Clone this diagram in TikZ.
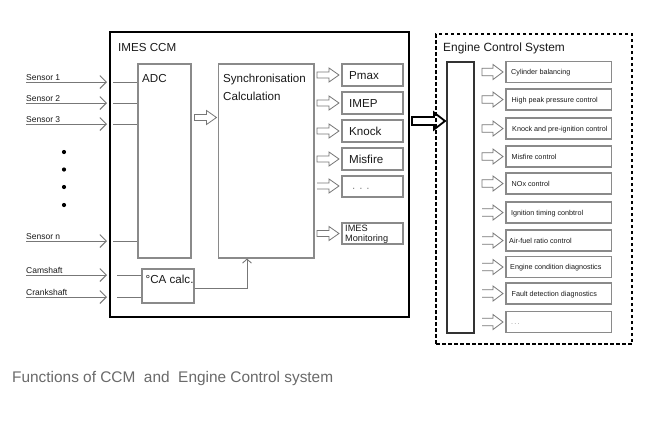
\documentclass[tikz,border=0pt]{standalone}
\usepackage{fontspec}
\setmainfont{Liberation Sans}
\usetikzlibrary{arrows.meta}
\definecolor{boxgray}{HTML}{8A8A8A}
\definecolor{linegray}{HTML}{777777}
\definecolor{capgray}{HTML}{6A6A6A}
\definecolor{txt}{HTML}{1A1A1A}
\begin{document}
\begin{tikzpicture}[x=1pt,y=-1pt,
  graybox/.style={draw=boxgray, line width=1.1pt, inner sep=0, fill=white},
  ccmbox/.style={draw=black, line width=2pt, inner sep=0},
  ecsbox/.style={draw=black, line width=1.2pt, dash pattern=on 3.5pt off 2.5pt, inner sep=0},
  barbox/.style={draw=black!80, line width=1.4pt, inner sep=0},
  sline/.style={draw=linegray, line width=0.9pt},
  hollow/.style={draw=linegray, line width=0.8pt, fill=white, line join=miter},
  tbig/.style={font=\fontsize{11.6}{13}\selectfont, inner sep=0, anchor=base west, text=txt},
  tmon/.style={font=\fontsize{9.2}{10}\selectfont, inner sep=0, anchor=base west, text=txt},
  tsens/.style={font=\fontsize{8.5}{10}\selectfont, inner sep=0, anchor=base west, text=txt},
  tecs/.style={font=\fontsize{7.2}{9}\selectfont, inner sep=0, anchor=base west, text=txt},
  dotn/.style={circle, fill=black, inner sep=0, minimum size=4.2pt},
  ccmarrow/.pic={\draw[hollow] (0,-3) -- (12,-3) -- (12,-7) -- (22,0) -- (12,7) -- (12,3) -- (0,3) -- cycle;},
  ccmarrowopen/.pic={\draw[hollow] (0,-3) -- (12,-3) -- (12,-7) -- (22,0) -- (12,7) -- (12,3) -- (0,3);},
  ecsarrow/.pic={\draw[hollow] (0,-3.7) -- (11,-3.7) -- (11,-7.5) -- (21,0) -- (11,7.5) -- (11,3.7) -- (0,3.7) -- cycle;},
  ecsarrowopen/.pic={\draw[hollow] (0,-3.7) -- (11,-3.7) -- (11,-7.5) -- (21,0) -- (11,7.5) -- (11,3.7) -- (0,3.7);},
  bigarrow/.pic={\draw[draw=black, line width=1.8pt, fill=white, line join=miter] (0,-4) -- (22,-4) -- (22,-8.5) -- (33,0) -- (22,8.5) -- (22,4) -- (0,4) -- cycle;}
]
\fill[white] (0,0) rectangle (661,424);
\useasboundingbox (0,0) rectangle (661,424);

% ---------------- IMES CCM ----------------
\node[ccmbox, minimum width=299, minimum height=285] (ccm) at (259.5,174.5) {};
\node[tbig] (ccmt) at (118,51.2) {IMES CCM};

\node[graybox, minimum width=53, minimum height=194] (adc) at (164.5,161) {};
\node[tbig] (adct) at (142,82.2) {ADC};

\node[graybox, minimum width=95.5, minimum height=194] (sync) at (266.25,161) {};
\node[tbig] (synct1) at (223,82.2) {Synchronisation};
\node[tbig] (synct2) at (223,100.2) {Calculation};

\pic at (194.5,117.5) {ccmarrow};

\node[graybox, minimum width=61, minimum height=22] (pmax) at (372.5,75) {};
\node[graybox, minimum width=61, minimum height=22] (imep) at (372.5,103) {};
\node[graybox, minimum width=61, minimum height=22] (knock) at (372.5,131) {};
\node[graybox, minimum width=61, minimum height=22] (misf) at (372.5,159) {};
\node[graybox, minimum width=61, minimum height=21] (more) at (372.5,186.5) {};
\node[graybox, minimum width=61, minimum height=21] (mon) at (372.5,233.5) {};
\node[tbig] (pmaxt) at (349,79.2) {Pmax};
\node[tbig] (imept) at (349,107.2) {IMEP};
\node[tbig] (knockt) at (349,135.2) {Knock};
\node[tbig] (misft) at (349,163.2) {Misfire};
\node[tbig, text=boxgray] (moret) at (352,189.5) {.\,\,.\,\,.};
\node[tmon] (mont1) at (345,231.3) {IMES};
\node[tmon] (mont2) at (345,241.3) {Monitoring};

\pic at (317,75) {ccmarrow};
\pic at (317,103) {ccmarrow};
\pic at (317,131) {ccmarrow};
\pic at (317,159) {ccmarrow};
\pic at (317,186) {ccmarrowopen};
\pic at (317,233.5) {ccmarrow};

\node[graybox, minimum width=52, minimum height=34] (ca) at (168,286) {};
\node[tbig] (cat) at (145.5,283) {\textdegree CA calc.};

% sensors
\foreach \n/\y/\t in {1/82/Sensor 1, 2/103/Sensor 2, 3/124/Sensor 3, n/241/Sensor n} {
  \coordinate (sa\n) at (26,\y);
  \coordinate (sb\n) at (107,\y);
  \coordinate (sc\n) at (113,\y);
  \node[tsens] (sl\n) at (26,\y-2) {\t};
  \draw[sline, -{Straight Barb[length=6.5pt,width=13pt]}] (sa\n) -- (sb\n);
  \draw[sline] (sc\n) -- (sc\n -| adc.west);
}
\foreach \n/\y/\t in {cam/275/Camshaft, crank/297/Crankshaft} {
  \coordinate (sa\n) at (26,\y);
  \coordinate (sb\n) at (107,\y);
  \coordinate (sc\n) at (117,\y);
  \node[tsens] (sl\n) at (26,\y-2) {\t};
  \draw[sline, -{Straight Barb[length=6.5pt,width=13pt]}] (sa\n) -- (sb\n);
  \draw[sline] (sc\n) -- (sc\n -| ca.west);
}
\node[dotn] (d1) at (64,152) {};
\node[dotn] (d2) at (64,169.5) {};
\node[dotn] (d3) at (64,187) {};
\node[dotn] (d4) at (64,205) {};

\coordinate (caout) at (ca.east |- 0,288);
\coordinate (syncin) at (sync.south -| 247,0);
\draw[sline, -{Straight Barb[length=4pt,width=9pt]}] (caout) -| (syncin);

% big arrow
\pic at (412,121) {bigarrow};

% ---------------- Engine Control System ----------------
\node[ecsbox, minimum width=196, minimum height=310] (ecs) at (534,189) {};
\node[tbig, font=\fontsize{11.9}{13}\selectfont] (ecst) at (443,51.3) {Engine Control System};
\node[barbox, minimum width=27, minimum height=271] (bar) at (460.5,197.5) {};

\foreach \i/\y/\t/\tx/\ar in {
  1/72/Cylinder balancing/511/ecsarrow,
  2/99.5/High peak pressure control/511.5/ecsarrow,
  3/128.5/Knock and pre-ignition control/512/ecsarrow,
  4/156.5/Misfire control/511.5/ecsarrow,
  5/183.5/NOx control/511.5/ecsarrow,
  6/212.5/Ignition timing conbtrol/511/ecsarrowopen,
  7/240.5/Air-fuel ratio control/509/ecsarrowopen,
  8/267/Engine condition diagnostics/510/ecsarrowopen,
  9/293.5/Fault detection diagnostics/511.5/ecsarrowopen} {
  \node[graybox, minimum width=105.5, minimum height=21] (e\i) at (558.75,\y) {};
  \node[tecs] (et\i) at (\tx,\y+2.6) {\t};
  \pic at (482,\y) {\ar};
}
\node[graybox, minimum width=105.5, minimum height=21] (e10) at (558.75,322) {};
\node[tecs, text=boxgray] (et10) at (511,324.6) {.\,.\,.};
\pic at (482,322) {ecsarrowopen};

% caption
\node[anchor=base west, inner sep=0, text=capgray, font=\fontsize{15.4}{18}\selectfont] (cap) at (12,382.7) {Functions of CCM\ \ and\ \ Engine Control system};
\end{tikzpicture}
\end{document}
